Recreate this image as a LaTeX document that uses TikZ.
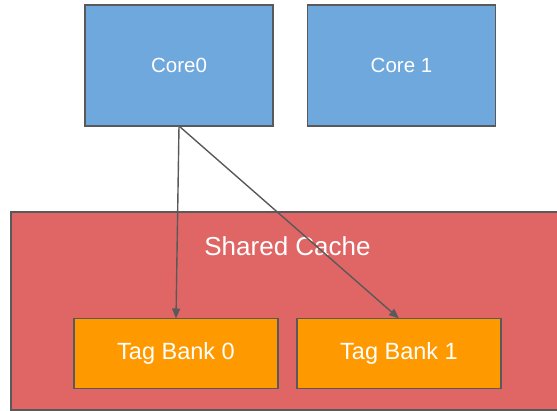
\documentclass[tikz,border=0pt]{standalone}
\usepackage{fontspec}
\setmainfont{Liberation Sans}
\usetikzlibrary{arrows.meta}
\definecolor{coreblue}{HTML}{6FA8DC}
\definecolor{cachered}{HTML}{E06666}
\definecolor{bankorange}{HTML}{FF9900}
\definecolor{edgegray}{HTML}{595959}
\tikzset{
  box/.style={draw=edgegray, line width=1.5pt, outer sep=0pt, inner sep=0pt,
    text=white},
  corebox/.style={box, fill=coreblue, minimum width=188pt, minimum height=121pt,
    font=\fontsize{20.5}{24}\selectfont},
  bankbox/.style={box, fill=bankorange, minimum width=204pt, minimum height=70pt,
    font=\fontsize{23.5}{28}\selectfont},
  cachebox/.style={box, fill=cachered, minimum width=560pt, minimum height=198pt, anchor=north west},
  link/.style={draw=edgegray, line width=1.4pt, -{Triangle[length=10pt,width=8pt]}},
}
\begin{document}
\begin{tikzpicture}[x=1pt,y=-1pt]
  \useasboundingbox (0,0) rectangle (557,411);
  \begin{scope}
    \clip (0,0) rectangle (557,411);
    \node[cachebox] (cache) at (11,212) {};
  \end{scope}
  \node[text=white, font=\fontsize{26}{31}\selectfont] (cachetitle) at (287.5,246.5) {Shared Cache};
  \node[corebox] (core0) at (179,65.5) {Core0};
  \node[corebox] (core1) at (401.5,65.5) {Core 1};
  \node[bankbox] (bank0) at (176,353.5) {Tag Bank 0};
  \node[bankbox] (bank1) at (399,353.5) {Tag Bank 1};
  \draw[link] (core0.south) -- (bank0.north);
  \draw[link] (core0.south) -- (bank1.north);
\end{tikzpicture}
\end{document}
